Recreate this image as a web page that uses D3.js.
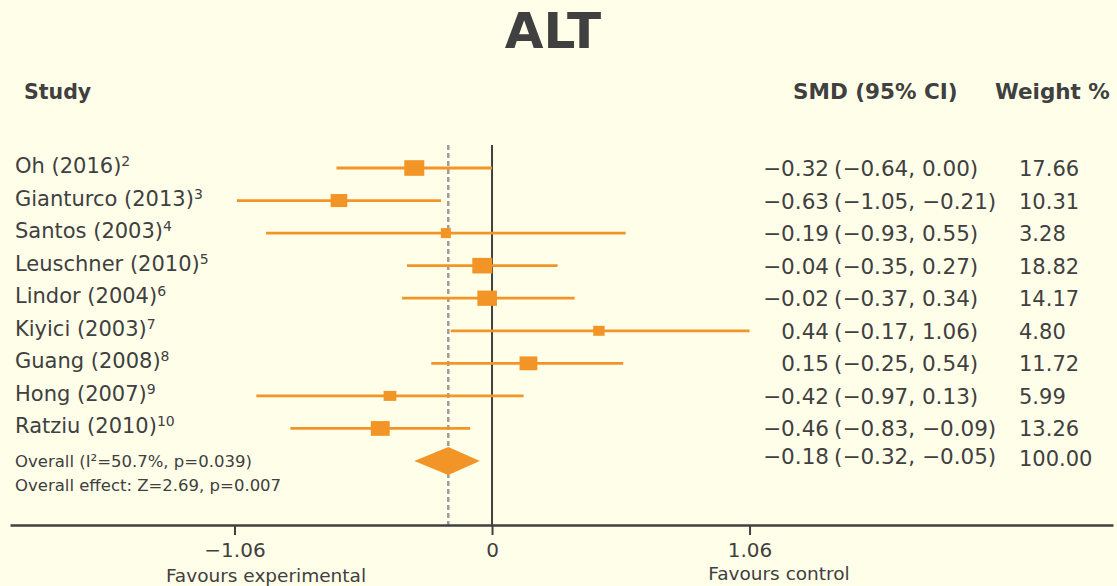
<!DOCTYPE html>
<html>
<head>
<meta charset="utf-8">
<script src="https://cdn.jsdelivr.net/npm/d3@7"></script>
<style>
  html, body { margin: 0; padding: 0; background: #fffee9; }
  svg { display: block; }
  text { font-family: Verdana, "DejaVu Sans", sans-serif; fill: #404040; }
</style>
</head>
<body>
<svg id="chart" width="1117" height="586"></svg>
<script>
// ---- data ----
const studies = ["Oh (2016)", "Gianturco (2013)", "Santos (2003)", "Leuschner (2010)", "Lindor (2004)",
                 "Kiyici (2003)", "Guang (2008)", "Hong (2007)", "Ratziu (2010)"];
const refs = ["2", "3", "4", "5", "6", "7", "8", "9", "10"];
const smd = [-0.32, -0.63, -0.19, -0.04, -0.02, 0.44, 0.15, -0.42, -0.46];
const ciLow = [-0.64, -1.05, -0.93, -0.35, -0.37, -0.17, -0.25, -0.97, -0.83];
const ciHigh = [0.00, -0.21, 0.55, 0.27, 0.34, 1.06, 0.54, 0.13, -0.09];
const weights = [17.66, 10.31, 3.28, 18.82, 14.17, 4.80, 11.72, 5.99, 13.26];
const overallSMD = [-0.18, -0.32, -0.05];   // estimate, lower, upper
const overallWeight = 100.00;
const overallLabels = ["Overall (I\u00B2=50.7%, p=0.039)", "Overall effect: Z=2.69, p=0.007"];
const tickValues = [-1.06, 0, 1.06];
const axisLabels = ["Favours experimental", "Favours control"];

// ---- layout ----
const W = 1117, H = 586;
const svg = d3.select("#chart");
svg.append("rect").attr("width", W).attr("height", H).attr("fill", "#fffee9");

const orange = "#f39426";
const x = d3.scaleLinear().domain([-1.984, 2.556]).range([10, 1113]);
const rows = studies.concat(["__overall__"]);
const y = d3.scalePoint().domain(rows).range([168, 461]);
const size = d3.scaleSqrt().domain([0, 20]).range([0, 23.25]);

const fmt = d3.format(".2f");

// title
svg.append("text").attr("x", 553).attr("y", 48).attr("text-anchor", "middle")
  .style("font-size", "50px").style("font-weight", "bold").text("ALT");

// headers
svg.append("text").attr("x", 24).attr("y", 99).style("font-size", "20.5px").style("font-weight", "bold").text("Study");
svg.append("text").attr("x", 793).attr("y", 99).style("font-size", "21.5px").style("font-weight", "bold").text("SMD (95% CI)");
svg.append("text").attr("x", 995).attr("y", 99).style("font-size", "21.5px").style("font-weight", "bold").text("Weight %");

const axisY = 525;
const topY = 145;

// reference lines
svg.append("line").attr("x1", x(overallSMD[0])).attr("x2", x(overallSMD[0]))
  .attr("y1", topY).attr("y2", axisY)
  .attr("stroke", "#9c9c9c").attr("stroke-width", 2.5).attr("stroke-dasharray", "5,3");
svg.append("line").attr("x1", x(0)).attr("x2", x(0))
  .attr("y1", topY).attr("y2", axisY)
  .attr("stroke", "#404040").attr("stroke-width", 2);

// study rows
const data = studies.map((s, i) => ({
  study: s, ref: refs[i], est: smd[i], lo: ciLow[i], hi: ciHigh[i], w: weights[i]
}));

const g = svg.append("g");
g.selectAll("line.ci").data(data).join("line").attr("class", "ci")
  .attr("x1", d => x(d.lo)).attr("x2", d => x(d.hi))
  .attr("y1", d => y(d.study)).attr("y2", d => y(d.study))
  .attr("stroke", orange).attr("stroke-width", 2.8);

g.selectAll("rect.box").data(data).join("rect").attr("class", "box")
  .each(function(d) {
    const bw = Math.max(10, Math.min(20, size(d.w)));
    const bh = Math.max(10, bw * 0.78);
    d3.select(this)
      .attr("x", x(d.est) - bw / 2).attr("y", y(d.study) - bh / 2)
      .attr("width", bw).attr("height", bh);
  })
  .attr("fill", orange);

// study labels with superscript refs
const lab = g.selectAll("text.lab").data(data).join("text").attr("class", "lab")
  .attr("x", 15).attr("y", d => y(d.study) + 5)
  .style("font-size", "21px");
lab.append("tspan").text(d => d.study);
lab.append("tspan").attr("dy", -7).style("font-size", "14px").text(d => d.ref);

// SMD column
g.selectAll("text.est").data(data).join("text").attr("class", "est")
  .attr("x", 829).attr("y", d => y(d.study) + 8).attr("text-anchor", "end")
  .style("font-size", "21.5px").text(d => fmt(d.est));
g.selectAll("text.citext").data(data).join("text").attr("class", "citext")
  .attr("x", 834).attr("y", d => y(d.study) + 8)
  .style("font-size", "21.5px").text(d => "(" + fmt(d.lo) + ", " + fmt(d.hi) + ")");
g.selectAll("text.wt").data(data).join("text").attr("class", "wt")
  .attr("x", 1019).attr("y", d => y(d.study) + 8)
  .style("font-size", "21px").text(d => fmt(d.w));

// overall
const oy = y("__overall__");
const dh = 14;
svg.append("path")
  .attr("d", `M${x(overallSMD[1])},${oy} L${x(overallSMD[0])},${oy - dh} L${x(overallSMD[2])},${oy} L${x(overallSMD[0])},${oy + dh} Z`)
  .attr("fill", orange);
svg.append("text").attr("x", 829).attr("y", oy + 3).attr("text-anchor", "end")
  .style("font-size", "21.5px").text(fmt(overallSMD[0]));
svg.append("text").attr("x", 834).attr("y", oy + 3)
  .style("font-size", "21.5px").text("(" + fmt(overallSMD[1]) + ", " + fmt(overallSMD[2]) + ")");
svg.append("text").attr("x", 1019).attr("y", oy + 5)
  .style("font-size", "21px").text(fmt(overallWeight));
svg.append("text").attr("x", 15).attr("y", oy + 6).style("font-size", "16.5px").text(overallLabels[0]);
svg.append("text").attr("x", 15).attr("y", oy + 30).style("font-size", "16.5px").text(overallLabels[1]);

// axis
const axis = d3.axisBottom(x).tickValues(tickValues).tickSize(10).tickSizeOuter(0).tickPadding(8)
  .tickFormat(d => d === 0 ? "0" : fmt(d));
const ax = svg.append("g").attr("transform", `translate(0,${axisY})`).call(axis);
ax.select(".domain").attr("stroke", "#404040").attr("stroke-width", 2.5);
ax.selectAll(".tick line").attr("stroke", "#404040").attr("stroke-width", 2);
ax.selectAll(".tick text").style("font-size", "20px").style("font-family", "Verdana, 'DejaVu Sans', sans-serif").attr("fill", "#404040");

svg.append("text").attr("x", 266).attr("y", 582).attr("text-anchor", "middle")
  .style("font-size", "18.5px").text(axisLabels[0]);
svg.append("text").attr("x", 779).attr("y", 580).attr("text-anchor", "middle")
  .style("font-size", "18.5px").text(axisLabels[1]);
</script>
</body>
</html>
